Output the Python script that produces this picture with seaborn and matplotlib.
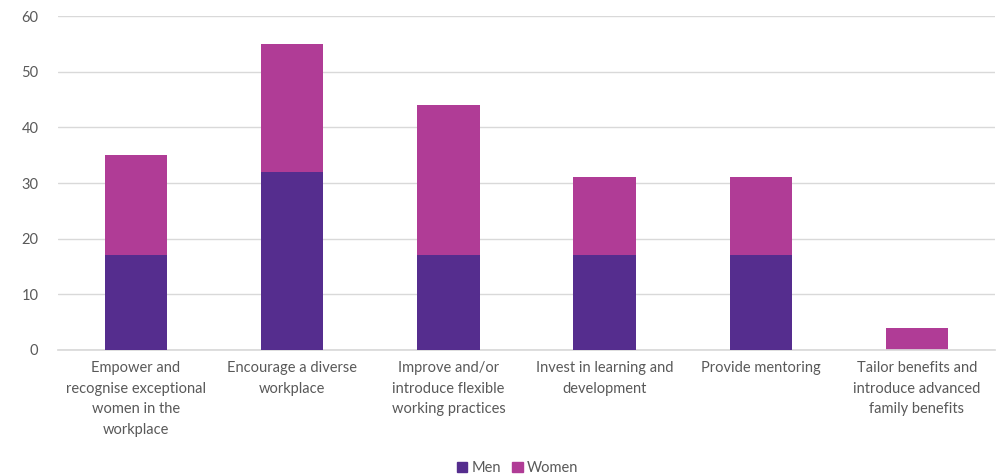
import matplotlib.pyplot as plt
import seaborn as sns
import pandas as pd
from matplotlib.patches import Patch

categories = [
    "Empower and\nrecognise exceptional\nwomen in the\nworkplace",
    "Encourage a diverse\nworkplace",
    "Improve and/or\nintroduce flexible\nworking practices",
    "Invest in learning and\ndevelopment",
    "Provide mentoring",
    "Tailor benefits and\nintroduce advanced\nfamily benefits",
]
men = [17, 32, 17, 17, 17, 0]
women = [18, 23, 27, 14, 14, 4]

men_color = "#552D8E"
women_color = "#B03C96"
text_color = "#595959"

sns.set_theme(style="white")
plt.rcParams["font.family"] = ["Lato", "DejaVu Sans"]

df = pd.DataFrame({"category": categories, "Men": men, "Women": women})
df["Total"] = df["Men"] + df["Women"]

fig = plt.figure(figsize=(9.99, 4.76), dpi=100)
ax = fig.add_axes([0.058, 0.265, 0.938, 0.701])

# stacked: draw totals in women colour, then men on top from zero
sns.barplot(data=df, x="category", y="Total", color=women_color, width=0.4,
            saturation=1, linewidth=0, ax=ax, zorder=2)
sns.barplot(data=df, x="category", y="Men", color=men_color, width=0.4,
            saturation=1, linewidth=0, ax=ax, zorder=3)

ax.set_ylim(0, 60)
ax.set_xlim(-0.5, 5.5)
ax.set_yticks(range(0, 61, 10))
ax.yaxis.grid(True, color="#D9D9D9", linewidth=1)
ax.set_axisbelow(True)
for s in ["top", "right", "left"]:
    ax.spines[s].set_visible(False)
ax.spines["bottom"].set_color("#D9D9D9")
ax.set_xlabel("")
ax.set_ylabel("")
ax.tick_params(axis="y", colors=text_color, labelsize=10.5, length=0, pad=14)
ax.tick_params(axis="x", colors=text_color, labelsize=10.5, length=0, pad=8)
for lbl in ax.get_xticklabels():
    lbl.set_linespacing(1.6)

handles = [Patch(color=men_color, label="Men"), Patch(color=women_color, label="Women")]
leg = fig.legend(handles=handles, loc="lower center", ncol=2, frameon=False,
                 bbox_to_anchor=(0.518, -0.025), fontsize=10.5, handlelength=0.7,
                 handleheight=0.7, handletextpad=0.3, columnspacing=0.8)
for t in leg.get_texts():
    t.set_color(text_color)

plt.savefig("out.png", dpi=100)
plt.close()
